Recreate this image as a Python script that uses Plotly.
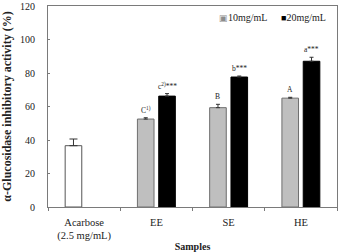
import plotly.graph_objects as go

categories = ["Acarbose", "EE", "SE", "HE"]
tick_labels = ["Acarbose<br>(2.5 mg/mL)", "EE", "SE", "HE"]
acarbose_vals = [36.6, None, None, None]
acarbose_err = [4.0, 0, 0, 0]
low_vals = [None, 52.5, 59.3, 65.0]
low_err = [0, 0.8, 2.0, 0.5]
high_vals = [None, 66.2, 77.6, 87.0]
high_err = [0, 1.5, 0.6, 2.4]
low_labels = ["", "C<sup>1)</sup>", "B", "A"]
high_labels = ["", "c<sup>2)</sup>***", "b***", "a***"]
series_names = ["10mg/mL", "20mg/mL"]

W, H = 344, 252
ML, MR, MT, MB = 48, 7, 6, 45
BARGAP, BARGROUPGAP = 0.41, 0.22

font_family = "Liberation Serif"
axis_col = "#7a7a7a"
low_col, high_col = "#bfbfbf", "black"

fig = go.Figure()
fig.add_bar(x=categories, y=acarbose_vals, offsetgroup="a", showlegend=False,
            marker=dict(color="white", line=dict(color="#555555", width=1)),
            error_y=dict(type="data", array=acarbose_err, symmetric=False,
                         arrayminus=[0] * 4, color="#333333", thickness=1, width=4))
fig.add_bar(x=categories, y=low_vals, offsetgroup="a", name=series_names[0], showlegend=False,
            marker=dict(color=low_col, line=dict(color="#6e6e6e", width=1)),
            error_y=dict(type="data", array=low_err, symmetric=False,
                         arrayminus=[0] * 4, color="#333333", thickness=1, width=2))
fig.add_bar(x=categories, y=high_vals, offsetgroup="b", name=series_names[1], showlegend=False,
            marker=dict(color=high_col, line=dict(color="black", width=1)),
            error_y=dict(type="data", array=high_err, symmetric=False,
                         arrayminus=[0] * 4, color="#333333", thickness=1, width=2))

cat_px = (W - ML - MR) / len(categories)
slot_px = cat_px * (1 - BARGAP) / 2
off = slot_px / 2

lab_font = dict(family=font_family, size=7.5, color="#222222")
annotations = []
for i, c in enumerate(categories):
    if low_labels[i]:
        annotations.append(dict(x=c, y=low_vals[i] + low_err[i], text=low_labels[i],
                                xref="x", yref="y", showarrow=False, xshift=-off,
                                yanchor="bottom", yshift=1, font=dict(lab_font)))
    if high_labels[i]:
        annotations.append(dict(x=c, y=high_vals[i] + high_err[i], text=high_labels[i],
                                xref="x", yref="y", showarrow=False, xshift=off,
                                yanchor="bottom", yshift=1, font=dict(lab_font)))

# legend drawn as text with square glyphs, one annotation per series
legend_items = [
    (0.585, f"<span style='color:#8c8c8c;font-size:9px'>▣</span>{series_names[0]}"),
    (0.80, f"<span style='color:{high_col};font-size:9px'>■</span>{series_names[1]}"),
]
for lx, txt in legend_items:
    annotations.append(dict(x=lx, y=0.945, xref="paper", yref="paper", xanchor="left",
                            yanchor="middle", showarrow=False, text=txt,
                            font=dict(family=font_family, size=10, color="#222222")))

fig.update_layout(
    width=W, height=H,
    margin=dict(l=ML, r=MR, t=MT, b=MB, pad=0),
    paper_bgcolor="white", plot_bgcolor="white",
    barmode="group", bargap=BARGAP, bargroupgap=BARGROUPGAP,
    font=dict(family=font_family, size=10, color="#222222"),
    showlegend=False,
    annotations=annotations,
    xaxis=dict(categoryorder="array", categoryarray=categories,
               tickvals=categories, ticktext=tick_labels, automargin=False,
               tickson="boundaries", ticks="outside", ticklen=3, tickcolor=axis_col,
               showline=True, linecolor=axis_col, linewidth=1, mirror=True,
               showgrid=False, zeroline=False, ticklabelstandoff=5,
               tickfont=dict(size=10.5, family=font_family),
               title=dict(text="<b>Samples</b>", font=dict(size=10, family=font_family),
                          standoff=4)),
    yaxis=dict(range=[0, 120], dtick=20, ticks="inside", ticklen=2, tickcolor=axis_col,
               showline=True, linecolor=axis_col, linewidth=1, mirror=True, automargin=False,
               showgrid=False, zeroline=False, ticklabelstandoff=10,
               tickfont=dict(size=10, family=font_family),
               title=dict(text="<b>α-Glucosidase inhibitory activity (%)</b>",
                          font=dict(size=12, family=font_family), standoff=7)),
)

fig.write_html("out.html")
